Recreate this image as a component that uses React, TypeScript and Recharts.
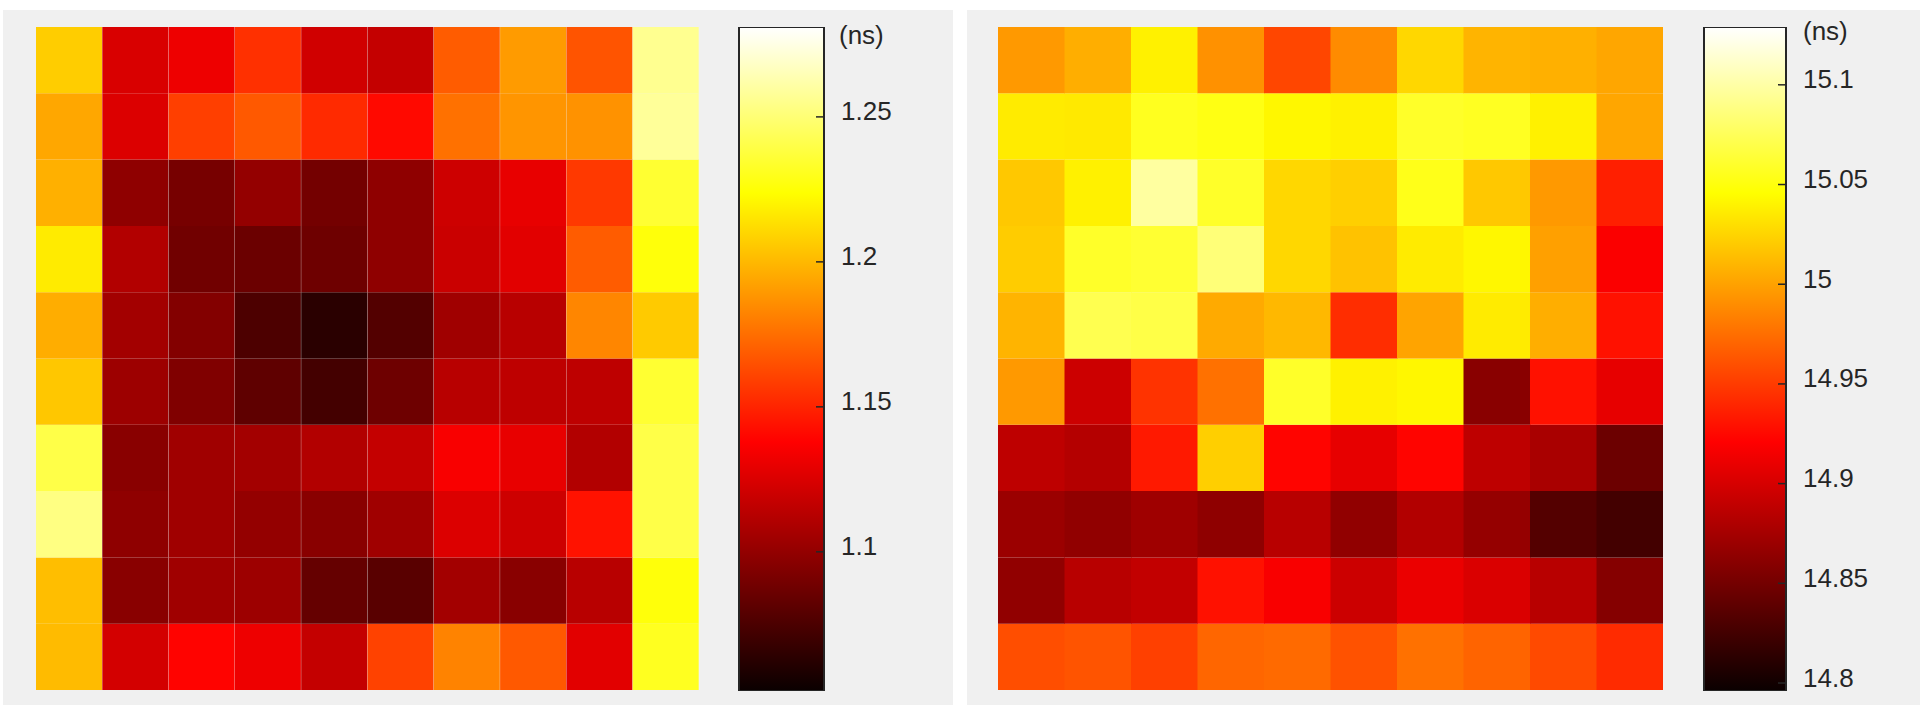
import { Bar, BarChart, Cell, XAxis, YAxis } from "recharts";

// delay maps, rows top to bottom, columns left to right (ns)
const COLS = ["1", "2", "3", "4", "5", "6", "7", "8", "9", "10"];

const leftDelay: number[][] = [
  [1.207, 1.125, 1.132, 1.154, 1.122, 1.118, 1.169, 1.19, 1.166, 1.256],
  [1.194, 1.126, 1.159, 1.168, 1.152, 1.141, 1.176, 1.188, 1.187, 1.258],
  [1.197, 1.1, 1.092, 1.102, 1.091, 1.1, 1.121, 1.13, 1.157, 1.235],
  [1.217, 1.112, 1.09, 1.088, 1.089, 1.1, 1.12, 1.128, 1.169, 1.226],
  [1.196, 1.107, 1.096, 1.078, 1.066, 1.08, 1.106, 1.114, 1.183, 1.206],
  [1.205, 1.105, 1.095, 1.084, 1.075, 1.089, 1.114, 1.116, 1.116, 1.235],
  [1.24, 1.098, 1.106, 1.107, 1.112, 1.118, 1.136, 1.13, 1.112, 1.24],
  [1.253, 1.1, 1.106, 1.102, 1.098, 1.106, 1.126, 1.121, 1.144, 1.24],
  [1.202, 1.098, 1.106, 1.105, 1.086, 1.082, 1.107, 1.098, 1.114, 1.226],
  [1.201, 1.123, 1.139, 1.132, 1.118, 1.16, 1.182, 1.168, 1.128, 1.231],
];

const rightDelay: number[][] = [
  [14.996, 15.006, 15.039, 14.992, 14.955, 14.989, 15.026, 15.009, 15.007, 15.002],
  [15.036, 15.035, 15.056, 15.052, 15.042, 15.039, 15.059, 15.057, 15.039, 15.002],
  [15.019, 15.039, 15.098, 15.059, 15.026, 15.022, 15.054, 15.019, 14.996, 14.936],
  [15.021, 15.059, 15.062, 15.085, 15.026, 15.016, 15.036, 15.042, 14.999, 14.919],
  [15.009, 15.072, 15.069, 15.004, 15.011, 14.943, 15.001, 15.036, 15.006, 14.929],
  [14.996, 14.896, 14.946, 14.976, 15.059, 15.039, 15.042, 14.863, 14.929, 14.909],
  [14.889, 14.884, 14.933, 15.022, 14.923, 14.909, 14.923, 14.889, 14.879, 14.849],
  [14.872, 14.867, 14.874, 14.866, 14.886, 14.867, 14.883, 14.869, 14.837, 14.829],
  [14.867, 14.886, 14.891, 14.929, 14.918, 14.896, 14.911, 14.903, 14.886, 14.861],
  [14.959, 14.962, 14.952, 14.971, 14.973, 14.961, 14.976, 14.97, 14.957, 14.942],
];

const leftRange: [number, number] = [1.052, 1.281];
const rightRange: [number, number] = [14.796, 15.129];
const leftTicks = [1.1, 1.15, 1.2, 1.25];
const rightTicks = [14.8, 14.85, 14.9, 14.95, 15, 15.05, 15.1];
const UNIT = "(ns)";

const FONT = "'Liberation Sans', Arial, sans-serif";
const INK = "#262626";
const PANEL = "#f0f0f0";

// matlab "hot"
function hot(t: number) {
  const c = (x: number) => Math.round(255 * Math.min(1, Math.max(0, x)));
  return `rgb(${c(t / 0.375)},${c((t - 0.375) / 0.375)},${c((t - 0.75) / 0.25)})`;
}

const colorOf = (v: number, [lo, hi]: [number, number]) => hot((v - lo) / (hi - lo));

function Heatmap({ grid, range, width, height }: { grid: number[][]; range: [number, number]; width: number; height: number }) {
  const table = COLS.map((col, c) => ({
    col,
    ...Object.fromEntries(grid.map((row, r) => [`r${r}`, row[c]])),
  }));
  // bottom row goes in first so the stack builds upward
  const order = grid.map((_, r) => r).reverse();
  return (
    <BarChart
      width={width}
      height={height}
      data={table}
      margin={{ top: 0, right: 0, bottom: 0, left: 0 }}
      barCategoryGap={0}
      barGap={0}
    >
      <XAxis dataKey="col" hide />
      <YAxis type="number" domain={[0, grid.length]} hide />
      {order.map((r) => (
        <Bar key={r} dataKey={() => 1} stackId="cells" isAnimationActive={false}>
          {table.map((_, c) => (
            <Cell key={c} fill={colorOf(grid[r][c], range)} />
          ))}
        </Bar>
      ))}
    </BarChart>
  );
}

function ColorBar({ range, ticks, barWidth, barHeight }: { range: [number, number]; ticks: number[]; barWidth: number; barHeight: number }) {
  const m = { top: 1, right: 0, bottom: 1, left: 1 };
  const axisW = 110;
  const edge = m.left + barWidth;
  return (
    <BarChart
      width={m.left + barWidth + axisW}
      height={barHeight + m.top + m.bottom}
      data={[{ name: "scale", top: range[1] }]}
      margin={m}
      barCategoryGap={0}
    >
      <XAxis dataKey="name" hide />
      <YAxis
        orientation="right"
        type="number"
        domain={range}
        ticks={ticks}
        interval={0}
        width={axisW}
        axisLine={false}
        tickLine={false}
        allowDataOverflow
        tick={(p: any) => (
          <g>
            <line x1={edge - 8} x2={edge - 1} y1={p.y} y2={p.y} stroke={INK} strokeWidth={1.5} />
            <text x={edge + 17} y={p.y + 3.5} fontSize={26} fill={INK} fontFamily={FONT}>
              {String(p.payload.value)}
            </text>
          </g>
        )}
      />
      <Bar dataKey="top" fill="url(#hotScale)" stroke={INK} strokeWidth={2} isAnimationActive={false} />
    </BarChart>
  );
}

const abs = (left: number, top: number): React.CSSProperties => ({ position: "absolute", left, top });

export default function App() {
  return (
    <div style={{ position: "absolute", left: 0, top: 0, width: 1920, height: 705, background: "#fff", overflow: "hidden" }}>
      <svg width={0} height={0} style={{ position: "absolute" }}>
        <defs>
          <linearGradient id="hotScale" x1="0" y1="0" x2="0" y2="1">
            <stop offset="0" stopColor="#ffffff" />
            <stop offset="0.25" stopColor="#ffff00" />
            <stop offset="0.625" stopColor="#ff0000" />
            <stop offset="1" stopColor="#0a0000" />
          </linearGradient>
        </defs>
      </svg>

      <div style={{ ...abs(3, 10), width: 950, height: 695, background: PANEL }} />
      <div style={{ ...abs(967, 10), width: 953, height: 695, background: PANEL }} />

      <div style={abs(36, 27)}>
        <Heatmap grid={leftDelay} range={leftRange} width={663} height={663} />
      </div>
      <div style={abs(738, 26)}>
        <ColorBar range={leftRange} ticks={leftTicks} barWidth={85} barHeight={664} />
      </div>
      <div style={{ ...abs(839, 22), fontFamily: FONT, fontSize: 26, lineHeight: "26px", color: INK }}>{UNIT}</div>

      <div style={abs(998, 27)}>
        <Heatmap grid={rightDelay} range={rightRange} width={665} height={663} />
      </div>
      <div style={abs(1703, 26)}>
        <ColorBar range={rightRange} ticks={rightTicks} barWidth={82} barHeight={664} />
      </div>
      <div style={{ ...abs(1803, 18), fontFamily: FONT, fontSize: 26, lineHeight: "26px", color: INK }}>{UNIT}</div>
    </div>
  );
}
